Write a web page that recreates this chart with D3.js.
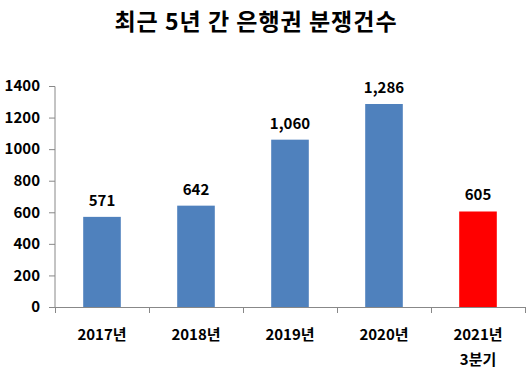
<!DOCTYPE html>
<html>
<head>
<meta charset="utf-8">
<script src="https://cdn.jsdelivr.net/npm/d3@7"></script>
<style>
  body { margin: 0; background: #fff; }
  svg text { font-family: "Noto Sans CJK KR", "Noto Sans", sans-serif; font-weight: bold; fill: #000; }
</style>
</head>
<body>
<div id="chart"></div>
<script>
// data
var categories = ["2017년", "2018년", "2019년", "2020년", "2021년\n3분기"];
var counts = [571, 642, 1060, 1286, 605];
var barColors = ["#4F81BD", "#4F81BD", "#4F81BD", "#4F81BD", "#FF0000"];
var yTicks = [0, 200, 400, 600, 800, 1000, 1200, 1400];
var title = "최근 5년 간 은행권 분쟁건수";

var W = 530, H = 373;
var margin = {top: 86, right: 5, bottom: 66, left: 55};
var width = W - margin.left - margin.right,
    height = H - margin.top - margin.bottom;

var svg = d3.select("#chart").append("svg")
    .attr("width", W)
    .attr("height", H);

svg.append("text")
    .attr("x", 256)
    .attr("y", 30)
    .attr("text-anchor", "middle")
    .style("font-size", "23px")
    .style("letter-spacing", "1px")
    .text(title);

var g = svg.append("g")
    .attr("transform", "translate(" + margin.left + "," + margin.top + ")");

var x = d3.scaleBand()
    .domain(categories)
    .range([0, width])
    .paddingInner(0.6)
    .paddingOuter(0.3);

var y = d3.scaleLinear()
    .domain([0, 1400])
    .range([height, 0]);

// y axis
var yAxis = g.append("g")
    .call(d3.axisLeft(y).tickValues(yTicks).tickSize(6).tickPadding(9).tickFormat(d3.format("d")));
yAxis.selectAll("line, path").attr("stroke", "#888");
yAxis.selectAll("text").style("font-size", "15px").attr("fill", "#000");
yAxis.select(".domain").attr("d", "M0," + (height + 0.5) + "V0.5");

// x axis line with tick marks at band boundaries
var xg = g.append("g").attr("transform", "translate(0," + height + ")");
xg.append("line")
    .attr("x1", 0).attr("x2", width)
    .attr("y1", 0.5).attr("y2", 0.5)
    .attr("stroke", "#888");
var step = width / categories.length;
xg.selectAll(".xtick")
    .data(d3.range(categories.length + 1))
    .enter().append("line")
    .attr("class", "xtick")
    .attr("x1", d => Math.round(d * step) + 0.5)
    .attr("x2", d => Math.round(d * step) + 0.5)
    .attr("y1", 0)
    .attr("y2", 6)
    .attr("stroke", "#888");

var labels = xg.selectAll(".xlab")
    .data(categories)
    .enter().append("text")
    .attr("class", "xlab")
    .attr("text-anchor", "middle")
    .attr("transform", d => "translate(" + (x(d) + x.bandwidth() / 2) + ",0)")
    .style("font-size", "15px");
labels.each(function(d) {
    var lines = d.split("\n");
    var t = d3.select(this);
    lines.forEach(function(line, i) {
        t.append("tspan")
            .attr("x", 0)
            .attr("y", 33 + i * 25)
            .text(line);
    });
});

// bars
g.selectAll(".bar")
    .data(counts)
    .enter().append("rect")
    .attr("class", "bar")
    .attr("x", (d, i) => x(categories[i]))
    .attr("y", d => y(d))
    .attr("width", x.bandwidth())
    .attr("height", d => height - y(d))
    .attr("fill", (d, i) => barColors[i]);

// value labels
g.selectAll(".val")
    .data(counts)
    .enter().append("text")
    .attr("class", "val")
    .attr("text-anchor", "middle")
    .attr("x", (d, i) => x(categories[i]) + x.bandwidth() / 2)
    .attr("y", d => y(d) - 11)
    .style("font-size", "15px")
    .text(d => d3.format(",")(d));
</script>
</body>
</html>
